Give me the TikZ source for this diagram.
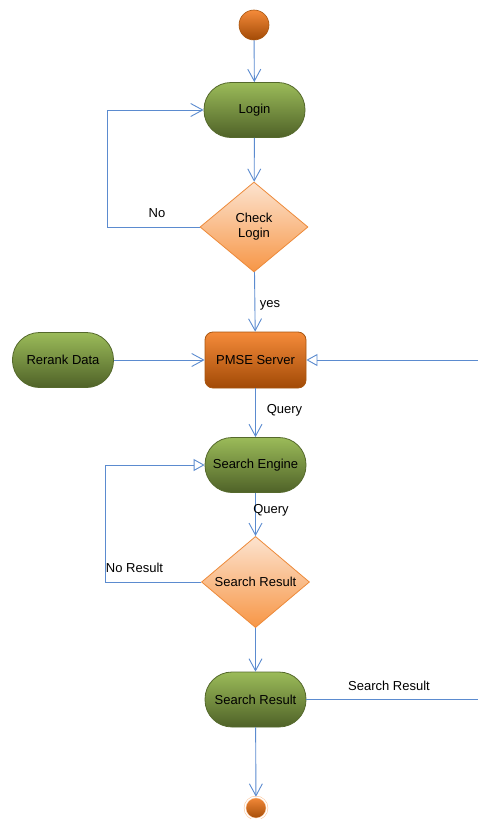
\documentclass[tikz,border=0pt]{standalone}
\usepackage{fontspec}
\setmainfont{Liberation Sans}
\usetikzlibrary{arrows.meta,shapes.geometric}
\definecolor{lineblue}{HTML}{5B8BCF}
\definecolor{greentop}{HTML}{9BBB59}
\definecolor{greenbot}{HTML}{4F6228}
\definecolor{greenedge}{HTML}{55692C}
\definecolor{peachtop}{HTML}{FCE3CF}
\definecolor{peachbot}{HTML}{F79646}
\definecolor{peachedge}{HTML}{ED8A3A}
\definecolor{orangetop}{HTML}{F58B3A}
\definecolor{orangebot}{HTML}{A24A06}
\definecolor{orangeedge}{HTML}{A8550F}
\definecolor{ringcol}{HTML}{FAC8A0}
\tikzset{
  txt/.style={font=\fontsize{13}{15}\selectfont, text=black},
  pill/.style={txt, draw=greenedge, line width=0.8pt, top color=greentop, bottom color=greenbot,
    rounded corners=27pt, minimum width=101pt, minimum height=55pt, inner sep=0pt},
  decision/.style={txt, diamond, draw=peachedge, line width=0.8pt, top color=peachtop, bottom color=peachbot,
    minimum width=108pt, minimum height=90pt, inner sep=0pt, align=center},
  server/.style={txt, draw=orangeedge, line width=0.8pt, top color=orangetop, bottom color=orangebot,
    rounded corners=8pt, minimum width=101pt, minimum height=56pt, inner sep=0pt},
  startdot/.style={circle, draw=orangeedge, line width=0.6pt, top color=orangetop, bottom color=orangebot,
    minimum size=30pt, inner sep=0pt},
  enddot/.style={circle, draw=ringcol, line width=0.6pt, double=white, double distance=1.2pt, top color=orangetop, bottom color=orangebot,
    minimum size=22pt, inner sep=0pt},
  conn/.style={draw=lineblue, line width=0.9pt},
  vtip/.style={conn, -{Straight Barb[length=12pt, width=13pt, line width=0.9pt]}},
  ttip/.style={conn, -{Triangle[open, length=11pt, width=12pt, fill=white, line width=0.9pt]}},
  lab/.style={txt, inner sep=0pt}
}
\begin{document}
\begin{tikzpicture}[x=1pt, y=-1pt]
\useasboundingbox (0,0) rectangle (478,819);

\node[startdot] (start) at (254,25) {};
\node[pill] (login) at (254.5,110) {Login};
\node[decision] (check) at (254,227) {Check\\Login};
\node[server] (pmse) at (255.5,360) {PMSE Server};
\node[pill] (rerank) at (63,360) {Rerank Data};
\node[pill] (engine) at (255.5,465) {Search Engine};
\node[decision] (sres) at (255.5,582) {Search Result};
\node[pill] (result) at (255.5,699.5) {Search Result};
\node[enddot] (end) at (256,808) {};

\coordinate (rin) at (478,360);
\coordinate (rout) at (478,699.5);
\coordinate (loopa) at (107,227);
\coordinate (loopb) at (105,582);

\draw[vtip] (start) -- (login);
\draw[vtip] (login) -- (check);
\draw[vtip] (check.west) -- (loopa) |- (login.west);
\draw[vtip] (check) -- (pmse);
\draw[vtip] (rerank) -- (pmse);
\draw[ttip] (rin) -- (pmse);
\draw[vtip] (pmse) -- (engine);
\draw[vtip] (engine) -- (sres);
\draw[ttip] (sres.west) -- (loopb) |- (engine.west);
\draw[vtip] (sres) -- (result);
\draw[conn] (result) -- (rout);
\draw[vtip] (result) -- (end);

\node[lab] (lno) at (157,213) {No};
\node[lab] (lyes) at (270,305) {yes};
\node[lab] (lq1) at (284.5,410) {Query};
\node[lab] (lq2) at (271,510) {Query};
\node[lab] (lnr) at (134.5,568) {No Result};
\node[lab] (lsr) at (389,686) {Search Result};
\end{tikzpicture}
\end{document}
